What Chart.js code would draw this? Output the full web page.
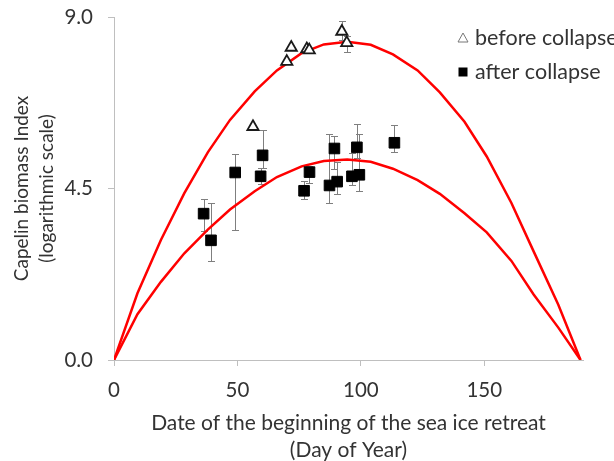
<!DOCTYPE html>
<html>
<head>
<meta charset="utf-8">
<script src="https://cdn.jsdelivr.net/npm/chart.js@4/dist/chart.umd.min.js"></script>
<style>
  html, body { margin: 0; padding: 0; background: #fff; }
  #c { display: block; }
</style>
</head>
<body>
<canvas id="c" width="614" height="461"></canvas>
<script>
// Capelin biomass index vs. day of sea-ice retreat onset

// Survey years before the stock collapse (open triangles)
const beforeDay   = [56.3, 70.0, 71.8, 78.1, 79.1, 92.3, 94.3];
const beforeIndex = [6.12, 7.83, 8.20, 8.16, 8.13, 8.62, 8.32];
const beforeLow   = [null, null, null, null, null, 8.40, 8.08];
const beforeHigh  = [null, null, null, null, null, 8.89, 8.50];

// Survey years after the collapse (filled squares)
const afterDay   = [36.3, 39.3, 49.1, 59.4, 60.2, 77.0, 79.2, 87.3, 89.3, 90.4, 96.4, 98.4, 99.4, 113.6];
const afterIndex = [3.84, 3.14, 4.92, 4.82, 5.37, 4.44, 4.93, 4.58, 5.55, 4.68, 4.82, 5.58, 4.86, 5.70];
const afterLow   = [3.38, 2.61, 3.42, 4.63, 5.04, 4.23, 4.65, 4.12, 5.00, 4.36, 4.60, 5.30, 4.44, 5.46];
const afterHigh  = [4.23, 4.11, 5.41, 5.04, 6.04, 4.69, 5.10, 5.94, 5.87, 5.20, 5.43, 6.20, 5.92, 6.16];

// Dome-shaped envelopes (upper: before collapse, lower: after collapse)
const curveDay   = [0, 9.5, 19, 28.5, 38, 47, 57, 66, 76, 85, 94.5, 104, 113, 123, 132, 142, 151, 161, 170, 180, 189];
const upperCurve = [0, 1.75, 3.15, 4.38, 5.45, 6.30, 7.05, 7.60, 8.05, 8.28, 8.35, 8.27, 8.02, 7.60, 7.02, 6.25, 5.34, 4.12, 2.85, 1.45, 0];
const lowerCurve = [0, 1.20, 2.05, 2.80, 3.42, 3.95, 4.43, 4.80, 5.08, 5.22, 5.26, 5.20, 5.02, 4.72, 4.36, 3.85, 3.35, 2.60, 1.72, 0.85, 0];

// Axis ticks and titles
const xTicks = [0, 50, 100, 150];
const yTicks = [0, 4.5, 9];
const xTitle = ['Date of the beginning of the sea ice retreat', '(Day of Year)'];
const yTitle = ['Capelin biomass Index', '(logarithmic scale)'];

const FONT = 'Lato, "Open Sans", sans-serif';
const AXIS_GREY = '#bfbfbf';
const TEXT = '#333333';

const toPoints = (xs, ys) => xs.map((x, i) => ({ x: x, y: ys[i] }));

// Vertical whiskers with caps, drawn beneath the markers
const errorBars = {
  id: 'errorBars',
  beforeDatasetsDraw(chart) {
    const { ctx, scales: { x, y } } = chart;
    ctx.save();
    ctx.strokeStyle = '#7f7f7f';
    ctx.lineWidth = 1;
    chart.data.datasets.forEach(ds => {
      if (!ds.errLow) return;
      ds.data.forEach((p, i) => {
        const lo = ds.errLow[i], hi = ds.errHigh[i];
        if (lo == null || hi == null) return;
        const px = Math.round(x.getPixelForValue(p.x)) + 0.5;
        const pl = Math.round(y.getPixelForValue(lo)) + 0.5;
        const ph = Math.round(y.getPixelForValue(hi)) + 0.5;
        ctx.beginPath();
        ctx.moveTo(px, pl); ctx.lineTo(px, ph);
        ctx.moveTo(px - 3.5, pl); ctx.lineTo(px + 3.5, pl);
        ctx.moveTo(px - 3.5, ph); ctx.lineTo(px + 3.5, ph);
        ctx.stroke();
      });
    });
    ctx.restore();
  }
};

// Two-entry key in the upper right of the plot
const markerKey = {
  id: 'markerKey',
  afterDraw(chart) {
    const ctx = chart.ctx;
    const sets = chart.data.datasets.filter(d => d.keyEntry);
    ctx.save();
    ctx.font = '21.5px ' + FONT;
    ctx.fillStyle = TEXT;
    ctx.textBaseline = 'middle';
    ctx.textAlign = 'left';
    const mx = 463, tx = 475, rows = [38, 72];
    sets.forEach((ds, i) => {
      const cy = rows[i];
      if (ds.pointStyle === 'triangle') {
        ctx.beginPath();
        ctx.moveTo(mx, cy - 5);
        ctx.lineTo(mx + 5, cy + 4);
        ctx.lineTo(mx - 5, cy + 4);
        ctx.closePath();
        ctx.fillStyle = '#fff';
        ctx.fill();
        ctx.strokeStyle = '#777';
        ctx.lineWidth = 1;
        ctx.stroke();
      } else {
        ctx.fillStyle = '#000';
        ctx.fillRect(mx - 4.5, cy - 4.5, 9, 9);
      }
      ctx.fillStyle = TEXT;
      ctx.fillText(ds.label, tx, cy);
    });
    ctx.restore();
  }
};

new Chart(document.getElementById('c'), {
  type: 'scatter',
  data: {
    datasets: [
      {
        label: 'before collapse',
        keyEntry: true,
        data: toPoints(beforeDay, beforeIndex),
        errLow: beforeLow, errHigh: beforeHigh,
        pointStyle: 'triangle',
        pointRadius: 6.5,
        backgroundColor: '#ffffff',
        borderColor: '#1a1a1a',
        borderWidth: 1.8,
        order: 0
      },
      {
        label: 'after collapse',
        keyEntry: true,
        data: toPoints(afterDay, afterIndex),
        errLow: afterLow, errHigh: afterHigh,
        pointStyle: 'rect',
        pointRadius: 7.5,
        backgroundColor: '#000000',
        borderColor: '#000000',
        borderWidth: 1,
        order: 0
      },
      {
        type: 'line',
        label: 'upper envelope',
        data: toPoints(curveDay, upperCurve),
        borderColor: '#ff0000',
        borderWidth: 2.5,
        pointRadius: 0,
        tension: 0,
        fill: false,
        order: 1
      },
      {
        type: 'line',
        label: 'lower envelope',
        data: toPoints(curveDay, lowerCurve),
        borderColor: '#ff0000',
        borderWidth: 2.5,
        pointRadius: 0,
        tension: 0,
        fill: false,
        order: 1
      }
    ]
  },
  options: {
    responsive: false,
    animation: false,
    events: [],
    layout: { padding: { top: 17, right: 31, left: 0, bottom: 0 } },
    plugins: {
      legend: { display: false },
      tooltip: { enabled: false }
    },
    scales: {
      x: {
        type: 'linear',
        min: 0,
        max: 190,
        afterBuildTicks: s => { s.ticks = xTicks.map(v => ({ value: v })); },
        afterFit: s => { s.height = 101; s.paddingLeft = 0; s.paddingRight = 0; },
        grid: { drawOnChartArea: false, color: AXIS_GREY, tickLength: 6 },
        border: { color: AXIS_GREY, width: 1 },
        ticks: { color: TEXT, font: { family: FONT, size: 20.5 }, padding: 12, maxRotation: 0 },
        title: {
          display: true,
          text: xTitle,
          color: TEXT,
          font: { family: FONT, size: 21, lineHeight: '27px' },
          padding: { top: 0, bottom: -3 }
        }
      },
      y: {
        type: 'linear',
        min: 0,
        max: 9,
        afterBuildTicks: s => { s.ticks = yTicks.map(v => ({ value: v })); },
        afterFit: s => { s.width = 114; s.paddingTop = 0; s.paddingBottom = 0; },
        grid: { drawOnChartArea: false, color: AXIS_GREY, tickLength: 6 },
        border: { color: AXIS_GREY, width: 1 },
        ticks: { color: TEXT, font: { family: FONT, size: 20.5 }, padding: 15, callback: v => Number(v).toFixed(1) },
        title: {
          display: true,
          text: yTitle,
          color: TEXT,
          font: { family: FONT, size: 19, lineHeight: '25px' },
          padding: { top: 9, bottom: 0 }
        }
      }
    }
  },
  plugins: [errorBars, markerKey]
});
</script>
</body>
</html>
